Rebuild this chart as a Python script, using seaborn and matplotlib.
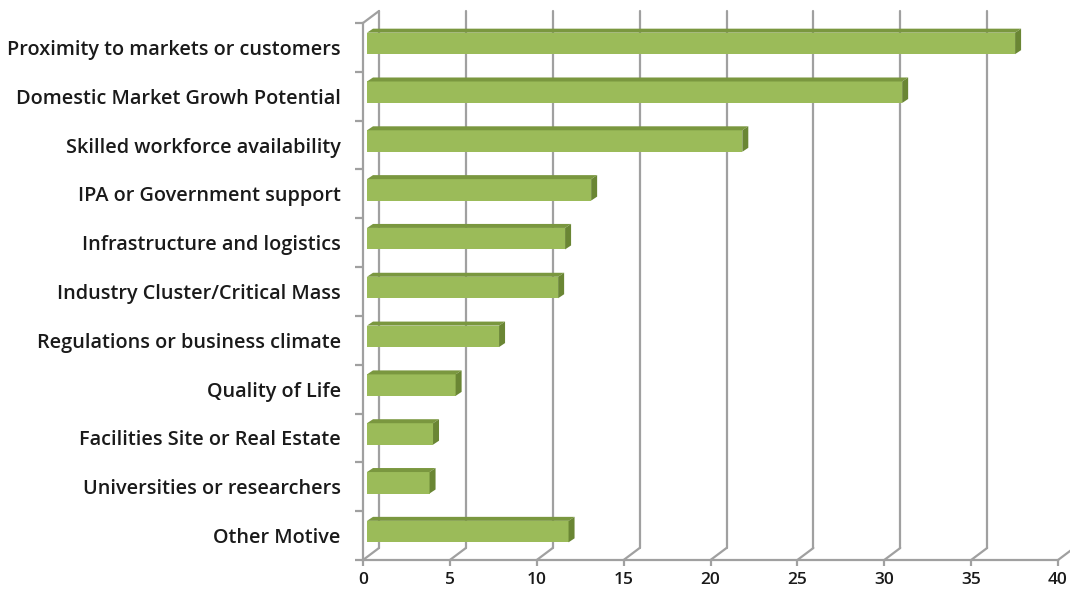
import matplotlib
matplotlib.use("Agg")
import matplotlib.pyplot as plt
import seaborn as sns
from matplotlib.lines import Line2D
from matplotlib.patches import Polygon
from matplotlib.transforms import IdentityTransform, ScaledTranslation

# data
motives = [
    "Proximity to markets or customers",
    "Domestic Market Growh Potential",
    "Skilled workforce availability",
    "IPA or Government support",
    "Infrastructure and logistics",
    "Industry Cluster/Critical Mass",
    "Regulations or business climate",
    "Quality of Life",
    "Facilities Site or Real Estate",
    "Universities or researchers",
    "Other Motive",
]
scores = [37.3, 30.8, 21.6, 12.9, 11.4, 11.0, 7.6, 5.1, 3.8, 3.6, 11.6]
x_ticks = [0, 5, 10, 15, 20, 25, 30, 35, 40]

FRONT = "#9bbb59"
TOP = "#7a973f"
SIDE = "#6a8634"
GRID = "#a0a0a0"
TEXT = "#1a1a1a"

sns.set_theme(style="white")
plt.rcParams["font.family"] = ["Open Sans", "DejaVu Sans"]

fig = plt.figure(figsize=(10.7, 5.92), dpi=100)
ax = fig.add_axes([363 / 1070, 32 / 592, 695 / 1070, 537 / 592])

sns.barplot(x=scores, y=motives, orient="h", color=FRONT, saturation=1,
            width=0.44, ax=ax, zorder=3)
ax.set_xlim(0, 40)
ax.set_ylim(len(motives) - 0.5, -0.5)
ax.set_xlabel("")
ax.set_ylabel("")

# axes lines / ticks
for side in ["top", "right"]:
    ax.spines[side].set_visible(False)
for side in ["left", "bottom"]:
    ax.spines[side].set_color(GRID)
    ax.spines[side].set_linewidth(1.6)

ax.set_xticks(x_ticks)
ax.set_xticklabels([str(t) for t in x_ticks], fontsize=12.5, fontweight="semibold", color=TEXT)
ax.tick_params(axis="x", length=4, width=1.6, color=GRID, pad=5, direction="out", bottom=True)

ax.set_yticks(range(len(motives)))
ax.set_yticklabels(motives, fontsize=14.3, fontweight="semibold", color=TEXT)
ax.set_yticks([i - 0.5 for i in range(len(motives) + 1)], minor=True)
ax.tick_params(axis="y", which="major", length=0, pad=16)
ax.tick_params(axis="y", which="minor", length=6, width=1.6, color=GRID, left=True)
ax.grid(False)

px = fig.dpi_scale_trans
depth = ScaledTranslation(16 / 100, 12 / 100, px)

# back wall gridlines
for v in x_ticks:
    ax.plot([v, v], [0, 1], color=GRID, lw=1.6, zorder=1, clip_on=False,
            transform=ax.get_xaxis_transform() + depth)

# floor diagonals and left wall top edge
fig.canvas.draw()
xa = ax.get_xaxis_transform()
for v in x_ticks:
    x0, y0 = xa.transform((v, 0))
    fig.add_artist(Line2D([x0, x0 + 16], [y0, y0 + 12], color=GRID, lw=1.6,
                          transform=IdentityTransform(), zorder=1))
x0, y0 = ax.transAxes.transform((0, 1))
fig.add_artist(Line2D([x0, x0 + 16], [y0, y0 + 12], color=GRID, lw=1.6,
                      transform=IdentityTransform(), zorder=1))

# pseudo 3d bars: shift front faces slightly into depth, add top and side faces
bar_off = ScaledTranslation(4 / 100, 4 / 100, px)
dx, dy = 6, 4
for patch in list(ax.patches):
    tr = ax.transData + bar_off
    patch.set_transform(tr)
    patch.set_edgecolor("none")
    bx0, by0 = patch.get_x(), patch.get_y()
    bx1, by1 = bx0 + patch.get_width(), by0 + patch.get_height()
    (ax0, ay0), (ax1, ay1) = tr.transform([(bx0, by0), (bx1, by1)])
    left, right = min(ax0, ax1), max(ax0, ax1)
    bot, top = min(ay0, ay1), max(ay0, ay1)
    top_face = Polygon([(left, top), (right, top), (right + dx, top + dy), (left + dx, top + dy)],
                       closed=True, facecolor=TOP, edgecolor="none",
                       transform=IdentityTransform(), zorder=4)
    side_face = Polygon([(right, bot), (right, top), (right + dx, top + dy), (right + dx, bot + dy)],
                        closed=True, facecolor=SIDE, edgecolor="none",
                        transform=IdentityTransform(), zorder=4)
    fig.add_artist(top_face)
    fig.add_artist(side_face)

fig.savefig("out.png", dpi=100, facecolor="white")
